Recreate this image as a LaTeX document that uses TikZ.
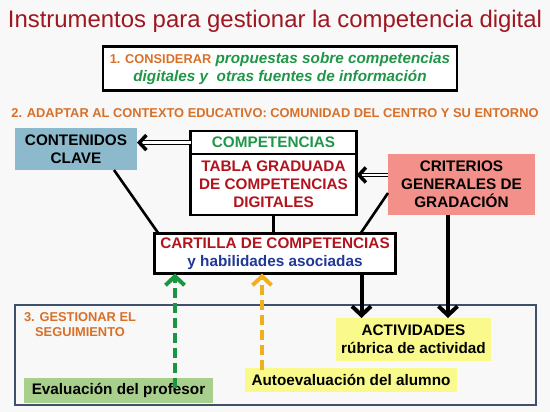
\documentclass[tikz,border=0pt]{standalone}
\usepackage{fontspec}
\setmainfont{Liberation Sans}
\usetikzlibrary{positioning}
\usetikzlibrary{calc}
\usetikzlibrary{arrows.meta}
\definecolor{titlered}{RGB}{158,22,32}
\definecolor{headorange}{RGB}{216,112,40}
\definecolor{textgreen}{RGB}{32,150,72}
\definecolor{textred}{RGB}{178,20,30}
\definecolor{textblue}{RGB}{32,56,150}
\definecolor{fillblue}{RGB}{140,186,204}
\definecolor{fillred}{RGB}{244,144,138}
\definecolor{fillyellow}{RGB}{250,250,140}
\definecolor{fillgreen}{RGB}{168,208,140}
\definecolor{framegray}{RGB}{62,80,106}
\definecolor{dashgreen}{RGB}{24,150,64}
\definecolor{dashorange}{RGB}{240,176,30}
\definecolor{pagebg}{RGB}{248,248,248}
\tikzset{%
  bigtext/.style = {font=\fontsize{15.3}{18}\selectfont\bfseries},
  head/.style = {text=headorange, align=center,
        font=\fontsize{12.85}{15}\selectfont\bfseries},
  plain/.style = {rectangle, align=center, inner sep=0pt,
        outer sep=0pt, bigtext},
  box/.style = {plain, draw, line width=2.6pt, fill=white},
  linkline/.style = {line width=2.6pt},
  doubleshaft/.style = {line width=1.2pt, double=white, double distance=2.2pt,
        shorten >=3pt},
  doubletip/.style = {draw=white, line width=0.5pt,
        -{Straight Barb[color=black,length=7pt,width=15pt,line width=3.5pt]}},
  taskarrow/.style = {line width=4pt,
        -{Straight Barb[length=9pt,width=19pt,line width=4pt]}},
  evalarrow/.style = {line width=4pt, dash pattern=on 10pt off 5pt,
        -{Straight Barb[length=9pt,width=19pt,line width=4pt]}}
}
\begin{document}
\begin{tikzpicture}[x=1pt,y=-1pt]
    \fill[pagebg] (0,0) rectangle (550,412);
    \node[anchor=base, text=titlered, font=\fontsize{23.9}{28}\selectfont] (title) at (275,28) {Instrumentos para gestionar la competencia digital};
    \node[box, minimum width=354pt, minimum height=44pt, font=\fontsize{15.3}{18}\selectfont\bfseries\itshape, text=textgreen] (consider) at (280,68.5)
        {{\fontsize{12.8}{18}\selectfont\upshape\color{headorange}1. CONSIDERAR} propuestas sobre competencias\\
         digitales y\ \ otras fuentes de información};
    \node[head, anchor=base] (adapt) at (275,117.6) {2. ADAPTAR AL CONTEXTO EDUCATIVO: COMUNIDAD DEL CENTRO Y SU ENTORNO};

    \node[plain, fill=fillblue, minimum width=122pt, minimum height=42pt] (contenidos) at (76,149) {CONTENIDOS\\CLAVE};
    \node[box, text=textgreen, minimum width=166pt, minimum height=23pt] (comp) at (273.5,142.6) {COMPETENCIAS};
    \node[box, text=textred, minimum width=166pt, minimum height=61pt] (tabla) [below=0pt of comp] {TABLA GRADUADA\\DE COMPETENCIAS\\DIGITALES};
    \node[plain, fill=fillred, minimum width=147pt, minimum height=61pt] (crit) at (461.5,184.5) {CRITERIOS\\GENERALES DE\\GRADACIÓN};
    \node[box, minimum width=241pt, minimum height=40pt] (cart) at (275,253.5)
        {\textcolor{textred}{CARTILLA DE COMPETENCIAS}\\\textcolor{textblue}{y habilidades asociadas}};

    \node[draw=framegray, line width=1.5pt, minimum width=521pt, minimum height=100pt, outer sep=0pt] (seguimiento) at (275.5,355) {};
    \node[head] (gest) at (80,324.5) {3. GESTIONAR EL\\SEGUIMIENTO};
    \node[plain, fill=fillyellow, minimum width=155pt, minimum height=43pt] (act) at (413.5,339.5) {ACTIVIDADES\\rúbrica de actividad};
    \node[plain, fill=fillyellow, minimum width=212pt, minimum height=24pt] (auto) at (351,380) {Autoevaluación del alumno};
    \node[plain, fill=fillgreen, minimum width=189pt, minimum height=25pt] (eval) at (118.5,390.5) {Evaluación del profesor};

    \coordinate (critin) at ($(crit.north west)!0.344!(crit.south west)$);
    \coordinate (evalstart) at (175,388);
    \coordinate (autostart) at (262,370);

    \draw[doubleshaft] (comp.west) -- (comp.west -| contenidos.east);
    \draw[doubletip] (comp.west) -- (comp.west -| contenidos.east);
    \draw[doubleshaft] (critin) -- (critin -| tabla.east);
    \draw[doubletip] (critin) -- (critin -| tabla.east);
    \draw[linkline] ([xshift=-23pt]contenidos.south east) -- ([xshift=4pt]cart.north west);
    \draw[linkline] (tabla.south) -- (tabla.south |- cart.north);
    \draw[linkline] ([yshift=-8.5pt]crit.west) -- ([xshift=-35pt]cart.north east);
    \draw[taskarrow] ([xshift=-34pt]cart.south east) -- ([xshift=-34pt]cart.south east |- act.north);
    \draw[taskarrow] ([xshift=-13.5pt]crit.south) -- ([xshift=-13.5pt]crit.south |- act.north);
    \draw[evalarrow, dashgreen] (evalstart) -- (evalstart |- cart.south);
    \draw[evalarrow, dashorange] (autostart) -- (autostart |- cart.south);
\end{tikzpicture}
\end{document}
